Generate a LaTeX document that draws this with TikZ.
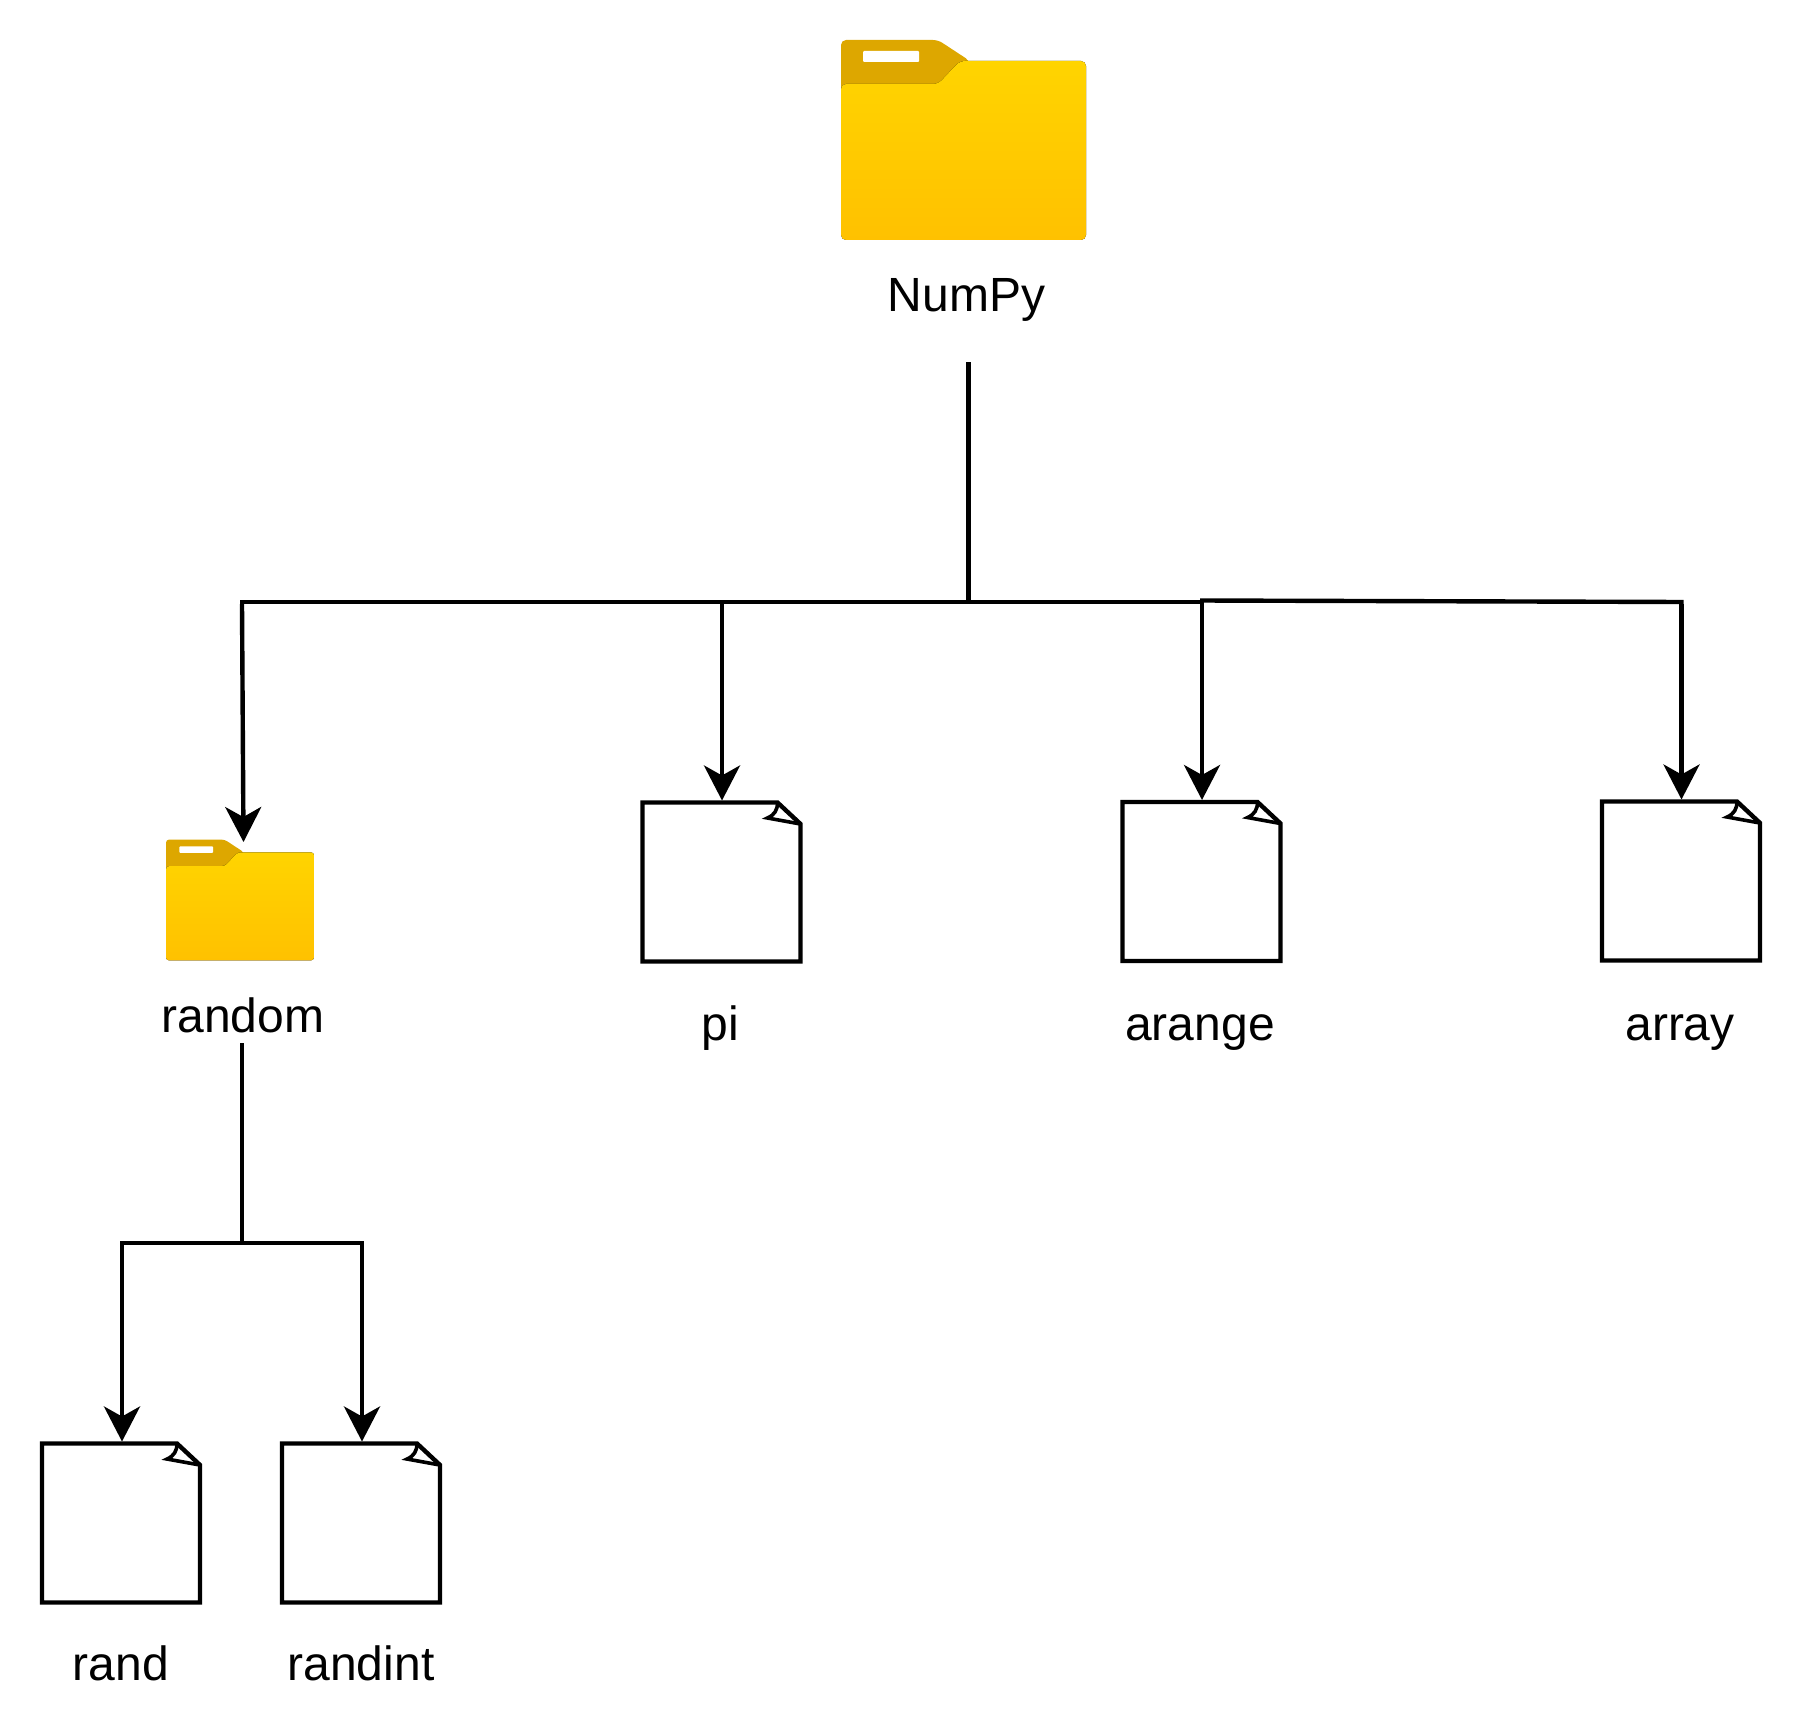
\documentclass[tikz,border=0pt]{standalone}
\usepackage{fontspec}
\setmainfont{Liberation Sans}
\usetikzlibrary{arrows.meta}
\definecolor{tabgold}{HTML}{DDA700}
\definecolor{foldertop}{HTML}{FFD400}
\definecolor{folderbot}{HTML}{FFC100}
\tikzset{
    wire/.style={line width=4.4pt, line cap=butt},
    arrowwire/.style={wire, -{Stealth[length=35pt,width=36pt,inset=10pt]}},
    pagebox/.style={minimum width=158pt, minimum height=159pt, inner sep=0pt, outer sep=2pt},
    folderbox/.style={inner sep=0pt, outer sep=0pt},
    caption/.style={anchor=base, inner sep=0pt, font=\fontsize{48}{58}\selectfont}
}
\newcommand{\docpage}[3]{
    \node[pagebox] (#1) at (#2, #3) {};
    \begin{scope}[shift={(#2, #3)}]
        \draw [line width=4.4pt, fill=white] (-79, -79.5) -- (56, -79.5) -- (79, -58) -- (79, 79.5) -- (-79, 79.5) -- cycle;
        \draw [line width=3.6pt] (56, -79.5) .. controls (56, -72) and (53, -67) .. (46, -64) -- (79, -58);
    \end{scope}
}
\newcommand{\foldericon}[5]{
    \node[folderbox, minimum width=#4*245pt, minimum height=#4*200pt] (#1) at (#2, #3) {};
    \begin{scope}[shift={(#1.north west)}, scale=#4]
        \fill [tabgold, rounded corners=#5] (0, 60) -- (0, 0) -- (97, 0) -- (129, 21) -- (129, 44) -- (0, 44) -- cycle;
        \fill [top color=foldertop, bottom color=folderbot, rounded corners=#5] (0, 200) -- (0, 44) -- (97, 44) -- (119, 21) -- (245, 21) -- (245, 200) -- cycle;
        \fill [white, rounded corners=1pt] (22, 11) rectangle (78, 22);
    \end{scope}
}
\begin{document}
\begin{tikzpicture}[x=1pt, y=-1pt]
    \useasboundingbox (0, 0) rectangle (1804, 1736);
    \foldericon{numpy}{963.5}{140}{1}{5pt}
    \foldericon{random}{240}{900}{0.604}{3pt}
    \node[caption] (numpylabel) at (966.5, 312) {NumPy};
    \node[caption] (randomlabel) at (243, 1032) {random};
    \docpage{pi}{721.5}{882}
    \docpage{arange}{1201.5}{881.5}
    \docpage{array}{1681}{881}
    \docpage{rand}{121}{1523}
    \docpage{randint}{361}{1523}
    \node[caption] (pilabel) at (720, 1040) {pi};
    \node[caption] (arangelabel) at (1200, 1040) {arange};
    \node[caption] (arraylabel) at (1680, 1040) {array};
    \node[caption] (randlabel) at (121, 1680) {rand};
    \node[caption] (randintlabel) at (361, 1680) {randint};
    \coordinate (a) at (968.5, 362);
    \coordinate (b) at (968.5, 602);
    \coordinate (c) at (242, 602);
    \coordinate (d) at (722, 602);
    \coordinate (e) at (1202, 602);
    \coordinate (f) at (1202, 600.5);
    \coordinate (g) at (1681.5, 602);
    \coordinate (h) at (243.5, 842);
    \draw [wire] (a) to (b);
    \draw [wire] ([xshift=-2pt]c) to ([xshift=2pt]e);
    \draw [wire] ([xshift=-2pt]f) to ([xshift=2pt]g);
    \draw [arrowwire] ([yshift=-2pt]c) to (h);
    \draw [arrowwire] (d) to (d |- pi.north);
    \draw [arrowwire] ([yshift=-2pt]f) to (f |- arange.north);
    \draw [arrowwire] ([yshift=-2pt]g) to (g |- array.north);
    \coordinate (i) at (242, 1043);
    \coordinate (j) at (242, 1243);
    \coordinate (k) at (122, 1243);
    \coordinate (l) at (362, 1243);
    \draw [wire] (i) to (j);
    \draw [wire] ([xshift=-2pt]k) to ([xshift=2pt]l);
    \draw [arrowwire] ([yshift=-2pt]k) to (k |- rand.north);
    \draw [arrowwire] ([yshift=-2pt]l) to (l |- randint.north);
\end{tikzpicture}
\end{document}
